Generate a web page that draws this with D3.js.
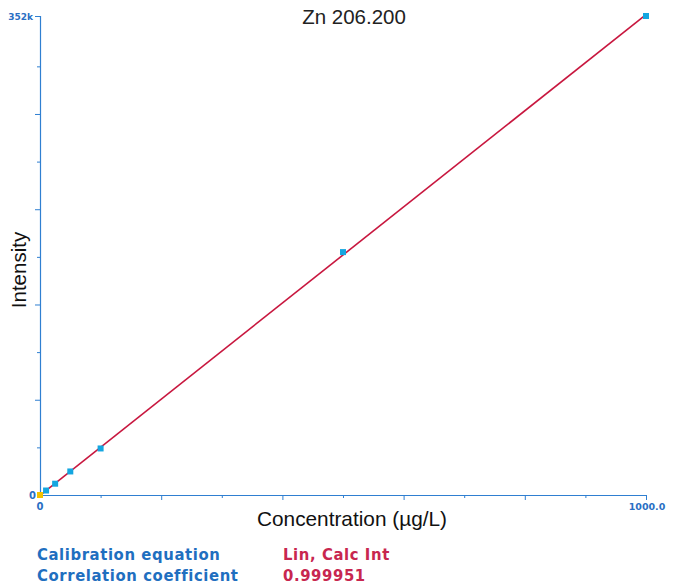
<!DOCTYPE html>
<html>
<head>
<meta charset="utf-8">
<script src="https://cdn.jsdelivr.net/npm/d3@7"></script>
<style>
  body { margin: 0; background: #fff; }
  svg { display: block; }
</style>
</head>
<body>
<div id="chart"></div>
<script>
// calibration standards, Zn 206.200
var concentrations = [10, 25, 50, 100, 500, 1000];
var intensities = [3300, 8300, 17300, 34200, 178500, 352000];
var blank = [0, 0];
var xTicks = [100, 200, 300, 400, 500, 600, 700, 800, 900];
var yTicks = [35000, 70000, 105000, 140000, 175000, 210000, 245000, 280000, 315000];
var infoLabels = ["Calibration equation", "Correlation coefficient"];
var infoValues = ["Lin, Calc Int", "0.999951"];

var width = 676, height = 588;
var margin = {top: 16, right: 30, bottom: 93, left: 40};

var svg = d3.select("#chart").append("svg")
    .attr("width", width)
    .attr("height", height);

var x = d3.scaleLinear().domain([0, 1000]).range([margin.left, width - margin.right]);
var y = d3.scaleLinear().domain([0, 352000]).range([height - margin.bottom, margin.top]);

var axisColor = "#2f7fd1";

// least squares fit through standards + blank
var xs = [blank[0]].concat(concentrations), ys = [blank[1]].concat(intensities);
var mx = d3.mean(xs), my = d3.mean(ys);
var slope = d3.sum(xs, function(d, i) { return (d - mx) * (ys[i] - my); }) /
            d3.sum(xs, function(d) { return (d - mx) * (d - mx); });
var intercept = my - slope * mx;

// axes
svg.append("line")
    .attr("x1", x(0)).attr("x2", x(1000))
    .attr("y1", y(0) + 0.5).attr("y2", y(0) + 0.5)
    .attr("stroke", axisColor).attr("stroke-width", 1.2);
svg.append("line")
    .attr("x1", x(0) + 0.5).attr("x2", x(0) + 0.5)
    .attr("y1", y(352000)).attr("y2", y(0) + 1)
    .attr("stroke", axisColor).attr("stroke-width", 1.2);

svg.selectAll(".xtick").data(xTicks.concat([1000])).enter().append("line")
    .attr("class", "xtick")
    .attr("x1", function(d) { return x(d) + 0.5; })
    .attr("x2", function(d) { return x(d) + 0.5; })
    .attr("y1", y(0))
    .attr("y2", function(d) { return y(0) + (d % 200 == 0 ? 5 : 3); })
    .attr("stroke", axisColor).attr("stroke-width", 1);

svg.selectAll(".ytick").data(yTicks.concat([352000])).enter().append("line")
    .attr("class", "ytick")
    .attr("y1", function(d) { return y(d) + 0.5; })
    .attr("y2", function(d) { return y(d) + 0.5; })
    .attr("x1", x(0))
    .attr("x2", function(d) { return x(0) - (d % 70000 == 0 || d == 352000 ? 5 : 3); })
    .attr("stroke", axisColor).attr("stroke-width", 1);

var tickFont = "'DejaVu Sans', Verdana, sans-serif";
svg.append("text").attr("x", x(0) - 7).attr("y", y(352000) + 3.5)
    .attr("text-anchor", "end").attr("font-family", tickFont).attr("font-weight", "bold")
    .attr("font-size", 9).attr("fill", "#2a6fc4").text("352k");
svg.append("text").attr("x", x(0) - 4).attr("y", y(0) + 4)
    .attr("text-anchor", "end").attr("font-family", tickFont).attr("font-weight", "bold")
    .attr("font-size", 10).attr("fill", "#2a6fc4").text("0");
svg.append("text").attr("x", x(0)).attr("y", y(0) + 15)
    .attr("text-anchor", "middle").attr("font-family", tickFont).attr("font-weight", "bold")
    .attr("font-size", 10).attr("fill", "#2a6fc4").text("0");
svg.append("text").attr("x", x(1000) + 1).attr("y", y(0) + 15)
    .attr("text-anchor", "middle").attr("font-family", tickFont).attr("font-weight", "bold")
    .attr("font-size", 9.5).attr("fill", "#2a6fc4").text("1000.0");

// fit line
svg.append("line")
    .attr("x1", x(0)).attr("y1", y(intercept))
    .attr("x2", x(1000)).attr("y2", y(intercept + slope * 1000))
    .attr("stroke", "#c8173f").attr("stroke-width", 1.6);

// markers
var s = 6;
svg.append("rect")
    .attr("x", x(blank[0]) - s / 2).attr("y", y(blank[1]) - s / 2)
    .attr("width", s).attr("height", s).attr("fill", "#f2c200");
svg.selectAll(".pt").data(concentrations).enter().append("rect")
    .attr("class", "pt")
    .attr("x", function(d) { return x(d) - s / 2; })
    .attr("y", function(d, i) { return y(intensities[i]) - s / 2; })
    .attr("width", s).attr("height", s)
    .attr("fill", "#14a6e0");

// titles
var labelFont = "'Liberation Sans', Arial, sans-serif";
svg.append("text").attr("x", 354).attr("y", 24)
    .attr("text-anchor", "middle").attr("font-family", labelFont)
    .attr("font-size", 20.5).attr("fill", "#222").text("Zn 206.200");
svg.append("text").attr("transform", "translate(26," + 270 + ") rotate(-90)")
    .attr("text-anchor", "middle").attr("font-family", labelFont)
    .attr("font-size", 20.5).attr("fill", "#111").text("Intensity");
svg.append("text").attr("x", 352).attr("y", 526)
    .attr("text-anchor", "middle").attr("font-family", labelFont)
    .attr("font-size", 20.8).attr("fill", "#111").text("Concentration (µg/L)");

// calibration info
var infoFont = "'DejaVu Sans Condensed', 'DejaVu Sans', Verdana, sans-serif";
svg.selectAll(".info-label").data(infoLabels).enter().append("text")
    .attr("class", "info-label")
    .attr("x", 37).attr("y", function(d, i) { return 560 + i * 21; })
    .attr("font-family", infoFont).attr("font-weight", "bold").attr("font-size", 16.5)
    .attr("letter-spacing", 0.6)
    .attr("fill", "#1f6fc0").text(function(d) { return d; });
svg.selectAll(".info-value").data(infoValues).enter().append("text")
    .attr("class", "info-value")
    .attr("x", 283).attr("y", function(d, i) { return 560 + i * 21; })
    .attr("font-family", infoFont).attr("font-weight", "bold").attr("font-size", 16.5)
    .attr("letter-spacing", 0.6)
    .attr("fill", "#c8264f").text(function(d) { return d; });
</script>
</body>
</html>
